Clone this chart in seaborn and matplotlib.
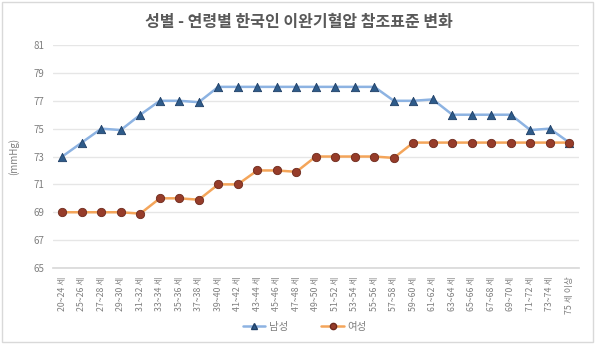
import matplotlib
matplotlib.use("Agg")
import matplotlib.pyplot as plt
import seaborn as sns
import pandas as pd
from matplotlib.patches import Rectangle

# Age groups (x axis)
age_groups = [
    "20~24 세", "25~26 세", "27~28 세", "29~30 세", "31~32 세", "33~34 세",
    "35~36 세", "37~38 세", "39~40 세", "41~42 세", "43~44 세", "45~46 세",
    "47~48 세", "49~50 세", "51~52 세", "53~54 세", "55~56 세", "57~58 세",
    "59~60 세", "61~62 세", "63~64 세", "65~66 세", "67~68 세", "69~70 세",
    "71~72 세", "73~74 세", "75 세 이상",
]

# Diastolic blood pressure reference values (mmHg)
male = [73, 74, 75, 74.9, 76, 77, 77, 76.9, 78, 78, 78, 78, 78, 78, 78, 78,
        78, 77, 77, 77.1, 76, 76, 76, 76, 74.9, 75, 74]
female = [69, 69, 69, 69, 68.9, 70, 70, 69.9, 71, 71, 72, 72, 71.9, 73, 73,
          73, 73, 72.9, 74, 74, 74, 74, 74, 74, 74, 74, 74]

series_names = ["남성", "여성"]
y_ticks = [65, 67, 69, 71, 73, 75, 77, 79, 81]

df = pd.DataFrame({
    "age": age_groups * 2,
    "x": list(range(len(age_groups))) * 2,
    "value": male + female,
    "sex": [series_names[0]] * len(male) + [series_names[1]] * len(female),
})

sns.set_theme(style="white")
plt.rcParams["font.family"] = ["Noto Sans CJK KR", "DejaVu Sans"]

fig = plt.figure(figsize=(5.97, 3.44), dpi=100)
ax = fig.add_axes([0.088, 0.221, 0.882, 0.648])

line_colors = {"남성": "#8DB3E2", "여성": "#F4A55A"}
marker_face = {"남성": "#2E5B8A", "여성": "#963C2A"}
marker_edge = {"남성": "#1F3F66", "여성": "#6E2A1C"}
markers = {"남성": "^", "여성": "o"}

sns.lineplot(data=df, x="x", y="value", hue="sex", palette=line_colors,
             linewidth=1.8, legend=False, ax=ax, zorder=2)

handles = []
for name in series_names:
    sub = df[df["sex"] == name]
    ax.scatter(sub["x"], sub["value"], marker=markers[name], s=36,
               color=marker_face[name], edgecolor=marker_edge[name],
               linewidths=0.6, zorder=3)
    h, = ax.plot([], [], color=line_colors[name], linewidth=1.8,
                 marker=markers[name], markersize=4.5,
                 markerfacecolor=marker_face[name],
                 markeredgecolor=marker_edge[name], label=name)
    handles.append(h)

ax.set_xlim(-0.5, len(age_groups) - 0.5)
ax.set_ylim(65, 81)
ax.set_yticks(y_ticks)
ax.set_yticklabels([str(t) for t in y_ticks], fontsize=7, color="#7F7F7F")
ax.set_xticks(range(len(age_groups)))
ax.set_xticklabels(age_groups, rotation=90, fontsize=6.3, color="#7F7F7F")
ax.tick_params(axis="both", length=0, pad=6)
ax.yaxis.grid(True, color="#E6E6E6", linewidth=1)
ax.set_axisbelow(True)
for s in ["top", "right", "left"]:
    ax.spines[s].set_visible(False)
ax.spines["bottom"].set_color("#D9D9D9")
ax.set_xlabel("")
ax.set_ylabel("(mmHg)", fontsize=7, color="#7F7F7F", labelpad=10)

fig.suptitle("성별 - 연령별 한국인 이완기혈압 참조표준 변화", y=0.96,
             fontsize=11.5, fontweight="bold", color="#595959")

fig.legend(handles=handles, loc="center", bbox_to_anchor=(0.51, 0.05),
           ncol=2, frameon=False, fontsize=7.5, labelcolor="#7F7F7F",
           handlelength=2.2, columnspacing=3.2, handletextpad=0.3)

fig.patches.append(Rectangle((0.003, 0.006), 0.99, 0.988, transform=fig.transFigure,
                             fill=False, edgecolor="#D9D9D9", linewidth=1))

fig.savefig("out.png", dpi=100)
